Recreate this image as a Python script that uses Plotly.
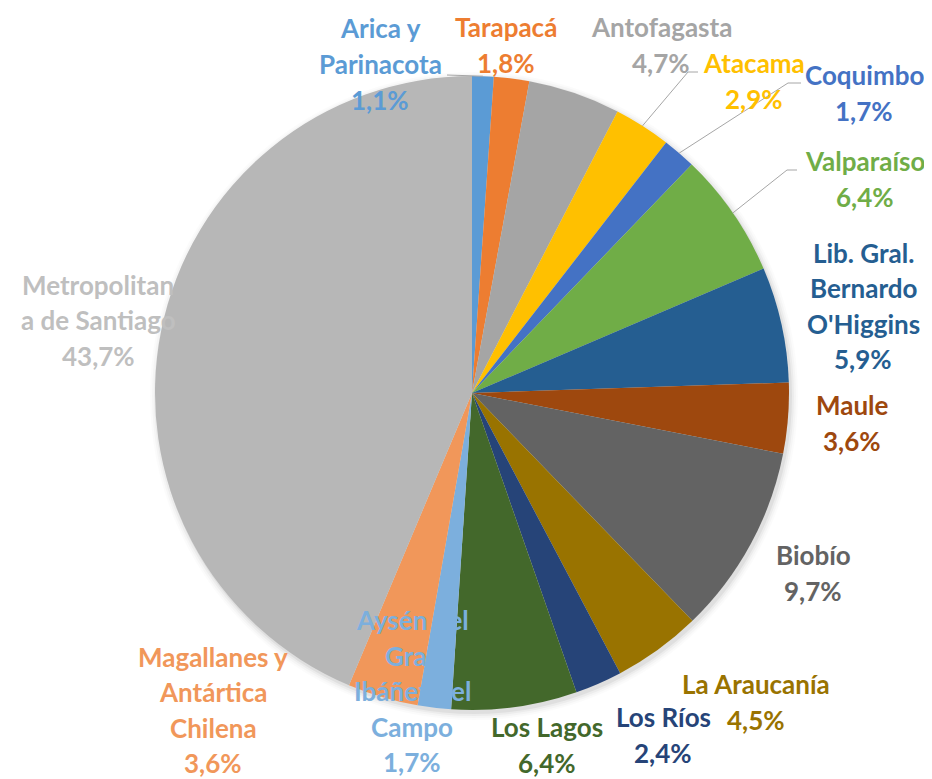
import math
import plotly.graph_objects as go

# ---- data ----
regions = ["Arica y Parinacota", "Tarapacá", "Antofagasta", "Atacama", "Coquimbo",
           "Valparaíso", "Lib. Gral. Bernardo O'Higgins", "Maule", "Biobío",
           "La Araucanía", "Los Ríos", "Los Lagos", "Aysén del Gral. Ibáñez del Campo",
           "Magallanes y Antártica Chilena", "Metropolitana de Santiago"]
shares = [1.1, 1.8, 4.7, 2.9, 1.7, 6.4, 5.9, 3.6, 9.7, 4.5, 2.4, 6.4, 1.7, 3.6, 43.7]
label_lines = [
    ["Arica y", "Parinacota"], ["Tarapacá"], ["Antofagasta"], ["Atacama"], ["Coquimbo"],
    ["Valparaíso"], ["Lib. Gral.", "Bernardo", "O'Higgins"], ["Maule"], ["Biobío"],
    ["La Araucanía"], ["Los Ríos"], ["Los Lagos"], ["Aysén del", "Gral.", "Ibáñez del", "Campo"],
    ["Magallanes y", "Antártica", "Chilena"], ["Metropolitan", "a de Santiago"],
]

# ---- styles / layout ----
colors = ["#5B9BD5", "#ED7D31", "#A5A5A5", "#FFC000", "#4472C4", "#70AD47", "#255E91",
          "#9E480E", "#636363", "#997300", "#264478", "#43682B", "#7CAFDD", "#F1975A", "#B7B7B7"]
text_colors = colors[:14] + ["#BFBFBF"]
W, H = 932, 779
OFF = 8  # page body margin
CX, CY, R = 472, 393, 317
# label block centres (page pixels)
label_pos = [(380, 64), (506, 45), (661, 45), (754, 81), (864, 93), (865, 179), (863, 306),
             (852, 423), (813, 573), (756, 702), (663, 735), (547, 745), (412, 691),
             (213, 710), (98, 320)]
# leader line elbows (page pixels)
leaders = {0: [(447, 75)], 3: [(688, 72), (698, 72)], 4: [(788, 83), (801, 83)],
           5: [(787, 170), (797, 170)]}
LINE_H = 35.5
FONT = "Lato"
FS = 26


def px2paper(x, y):
    return (x - OFF) / W, 1 - (y - OFF) / H


d_x0, d_y1 = px2paper(CX - R, CY - R)
d_x1, d_y0 = px2paper(CX + R, CY + R)

fig = go.Figure(go.Pie(
    labels=regions, values=shares, sort=False, direction="clockwise", rotation=0,
    marker=dict(colors=colors, line=dict(width=0)), textinfo="none", hoverinfo="label+percent",
    domain=dict(x=[d_x0, d_x1], y=[d_y0, d_y1]),
    showlegend=False,
))

total = sum(shares)
annotations = []
shapes = []
# soft shadow around the pie
for k, a in enumerate([0.05, 0.035, 0.025, 0.015]):
    rr = R + 1 + 2 * k
    x0, y0 = px2paper(CX - rr + 2, CY - rr + 3)
    x1, y1 = px2paper(CX + rr + 2, CY + rr + 3)
    shapes.append(dict(type="circle", xref="paper", yref="paper", x0=x0, x1=x1, y0=y1, y1=y0,
                       fillcolor=f"rgba(0,0,0,{a})", line=dict(width=0), layer="below"))

cum = 0.0
for i, (lines, v) in enumerate(zip(label_lines, shares)):
    mid = (cum + v / 2) / total * 2 * math.pi
    cum += v
    all_lines = lines + [f"{v:.1f}%".replace(".", ",")]
    lx, ly = label_pos[i]
    n = len(all_lines)
    for j, t in enumerate(all_lines):
        yy = ly + (j - (n - 1) / 2) * LINE_H
        ax, ay = px2paper(lx, yy)
        annotations.append(dict(x=ax, y=ay, xref="paper", yref="paper", text=t, showarrow=False,
                                xanchor="center", yanchor="middle",
                                font=dict(family=FONT, size=FS, color=text_colors[i], weight="bold")))
    if i in leaders:
        ex, ey = CX + R * math.sin(mid), CY - R * math.cos(mid)
        pts = [(ex, ey)] + leaders[i]
        path = ""
        for k, (px, py) in enumerate(pts):
            qx, qy = px2paper(px, py)
            path += ("M" if k == 0 else "L") + f" {qx} {qy} "
        shapes.append(dict(type="path", xref="paper", yref="paper", path=path,
                           line=dict(color="#A6A6A6", width=1)))

fig.update_layout(width=W, height=H, margin=dict(l=0, r=0, t=0, b=0),
                  paper_bgcolor="white", plot_bgcolor="white",
                  annotations=annotations, shapes=shapes)
fig.write_html("out.html")
